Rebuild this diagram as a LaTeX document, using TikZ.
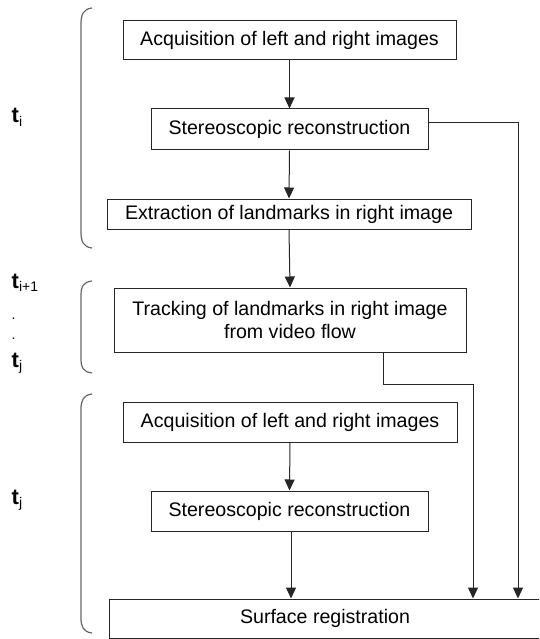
\documentclass[tikz,border=0pt]{standalone}
\usepackage{fontspec}
\setmainfont{Liberation Sans}
\usetikzlibrary{arrows.meta}
\begin{document}
\begin{tikzpicture}[x=1pt,y=-1pt,
  box/.style={draw=black!85, line width=1pt, inner sep=0pt, align=center,
    font=\fontsize{19.6}{23.5}\selectfont},
  conn/.style={draw=black!85, line width=1pt},
  arr/.style={conn, -{Triangle[length=11pt,width=10pt]}},
  brace/.style={draw=black!60, line width=1.2pt},
  tlab/.style={anchor=base west, inner sep=0pt, font=\fontsize{22}{22}\bfseries\selectfont},
  dotlab/.style={anchor=base west, inner sep=0pt, font=\fontsize{14}{14}\selectfont}]
\useasboundingbox (0,0) rectangle (539,639);
\clip (0,0) rectangle (539,639);
% boxes
\node[box, minimum width=333pt, minimum height=39pt] (b1) at (289.5,40.5) {Acquisition of left and right images};
\node[box, minimum width=277pt, minimum height=41pt] (b2) at (289.5,129.5) {Stereoscopic reconstruction};
\node[box, minimum width=364pt, minimum height=30pt] (b3) at (289,214) {Extraction of landmarks in right image};
\node[box, minimum width=352pt, minimum height=64pt] (b4) at (290,320) {Tracking of landmarks in right image\\from video flow};
\node[box, minimum width=334pt, minimum height=40pt] (b5) at (290,422) {Acquisition of left and right images};
\node[box, minimum width=277pt, minimum height=40pt] (b6) at (289.5,511) {Stereoscopic reconstruction};
\node[box, minimum width=432pt, minimum height=39pt] (sr) at (325,618.5) {Surface registration};
% connectors
\draw[arr] (b1.south) -- (b2.north);
\draw[arr] (b2.south) -- (b3.north);
\draw[arr] (b3.south) -- (b4.north);
\draw[arr] (b5.south) -- (b6.north);
\coordinate (c2) at (428,123);
\coordinate (c4) at (383,352);
\draw[arr] (c2) -- (518,123) -- (518,123 |- sr.north);
\draw[arr] (c4) -- (383,384) -- (473,384) -- (473,384 |- sr.north);
\draw[arr] (291,531) -- (291,531 |- sr.north);
% braces
\draw[brace] (92,8) .. controls (83,9) and (81,15) .. (81,24) -- (81,232) .. controls (81,241) and (83,247) .. (92,248);
\draw[brace] (92,281) .. controls (83,282) and (81,287) .. (81,294) -- (81,360) .. controls (81,367) and (83,372) .. (92,373);
\draw[brace] (92,394) .. controls (83,395) and (81,401) .. (81,409) -- (81,618) .. controls (81,626) and (83,632) .. (92,633);
% time labels
\node[tlab] (ti) at (11.5,123) {t\textsubscript{\normalfont\fontsize{14}{14}\selectfont i}};
\node[tlab] (tip) at (11.5,288) {t\textsubscript{\normalfont\fontsize{14}{14}\selectfont i+1}};
\node[dotlab] (d1) at (11.5,319) {.};
\node[dotlab] (d2) at (11.5,339) {.};
\node[tlab] (tj1) at (11.5,367) {t\textsubscript{\normalfont\fontsize{14}{14}\selectfont j}};
\node[tlab] (tj2) at (11.5,504) {t\textsubscript{\normalfont\fontsize{14}{14}\selectfont j}};
\end{tikzpicture}
\end{document}
